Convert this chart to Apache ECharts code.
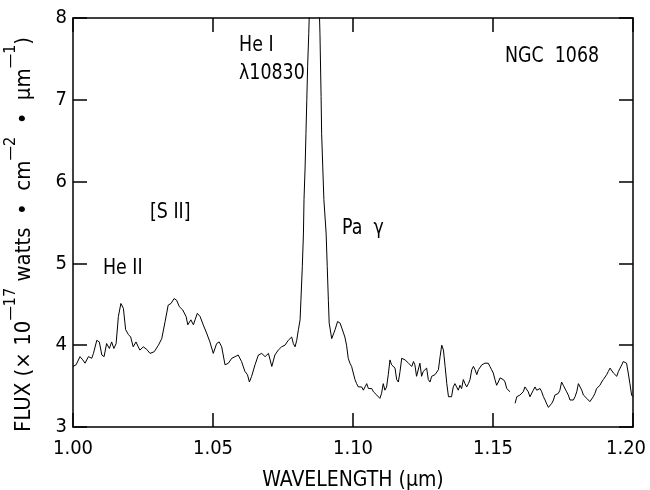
<!DOCTYPE html>
<html><head><meta charset="utf-8">
<script src="https://cdn.jsdelivr.net/npm/echarts@6/dist/echarts.min.js"></script>
<style>html,body{margin:0;padding:0;background:#fff}#c{width:650px;height:490px}</style>
</head><body><div id="c"></div><script>
const wavelength = [
1.0000,1.0011,1.0025,1.0035,1.0043,1.0055,1.0067,1.0073,1.0085,1.0094,1.0103,1.0111,1.0120,1.0130,1.0138,1.0146,1.0154,1.0162,1.0171,1.0180,1.0188,1.0198,1.0206,1.0215,1.0225,1.0233,1.0239,1.0251,1.0263,1.0275,1.0281,1.0290,1.0305,1.0317,1.0329,1.0340,1.0350,1.0361,1.0370,1.0380,1.0392,1.0404,1.0410,1.0421,1.0430,1.0436,1.0444,1.0454,1.0465,1.0477,1.0489,1.0501,1.0513,1.0522,1.0531,1.0543,1.0555,1.0567,1.0579,1.0590,1.0602,1.0614,1.0623,1.0630,1.0638,1.0650,
1.0662,1.0674,1.0686,1.0698,1.0710,1.0721,1.0733,1.0745,1.0757,1.0769,1.0775,1.0781,1.0787,1.0793,1.0799,1.0805,1.0811,1.0814,1.0819,1.0823,1.0825,1.0829,1.0832,1.0835,1.0838,1.0842,1.0846,1.0855,1.0870,1.0878,1.0882,1.0886,1.0888,1.0892,1.0896,1.0904,1.0908,1.0912,1.0915,1.0924,1.0930,1.0936,1.0945,1.0954,1.0960,
1.0966,1.0971,1.0977,1.0983,1.0989,1.0995,1.1001,1.1007,1.1013,1.1019,1.1025,1.1031,1.1037,1.1043,1.1049,1.1055,1.1061,1.1067,1.1073,1.1079,1.1085,1.1091,1.1096,1.1102,1.1108,1.1114,1.1120,1.1126,1.1132,1.1138,1.1144,1.1150,1.1156,1.1162,1.1168,1.1174,1.1180,1.1186,1.1192,1.1198,1.1204,1.1210,1.1216,1.1221,1.1227,1.1233,1.1239,1.1245,1.1251,1.1257,1.1263,1.1269,1.1275,1.1281,1.1287,1.1293,1.1299,1.1305,1.1311,1.1317,1.1323,1.1329,1.1335,1.1341,1.1346,1.1352,1.1358,1.1364,1.1370,1.1376,1.1382,1.1388,1.1394,1.1400,1.1406,1.1412,1.1418,1.1424,1.1430,1.1436,1.1442,1.1448,1.1454,1.1460,1.1466,1.1471,1.1477,1.1483,1.1489,1.1495,1.1501,1.1507,1.1513,1.1519,1.1525,1.1531,1.1537,1.1543,1.1549,1.1555,1.1561,1.1570,
1.1579,1.1585,1.1591,1.1596,1.1602,1.1608,1.1614,1.1620,1.1626,1.1632,1.1638,1.1644,1.1650,1.1656,1.1662,1.1668,1.1674,1.1680,1.1686,1.1692,1.1698,1.1704,1.1710,1.1716,1.1721,1.1727,1.1733,1.1739,1.1745,1.1751,1.1757,1.1763,1.1769,1.1775,1.1781,1.1787,1.1793,1.1799,1.1805,1.1811,1.1817,1.1823,1.1829,1.1835,1.1840,1.1846,1.1852,1.1858,1.1864,1.1870,1.1876,1.1882,1.1888,1.1894,1.1900,1.1906,1.1912,1.1918,1.1924,1.1930,1.1936,1.1942,1.1948,1.1954,1.1960,1.1965,1.1971,1.1977,1.1983,1.1989,1.1995,1.2000
];
const flux = [
3.74,3.76,3.86,3.82,3.78,3.86,3.84,3.90,4.06,4.04,3.88,3.86,4.02,3.96,4.04,3.96,4.02,4.35,4.51,4.45,4.19,4.13,4.10,3.98,4.04,3.98,3.94,3.98,3.95,3.90,3.88,3.92,4.00,4.08,4.29,4.49,4.51,4.57,4.55,4.47,4.43,4.35,4.25,4.31,4.25,4.31,4.39,4.35,4.25,4.15,4.04,3.90,4.02,4.04,3.98,3.76,3.78,3.84,3.86,3.88,3.80,3.68,3.64,3.55,3.62,3.76,
3.88,3.90,3.86,3.90,3.74,3.88,3.94,3.98,4.00,4.06,4.08,4.10,4.02,3.98,4.06,4.19,4.31,4.55,4.96,5.37,5.78,6.18,6.59,7.00,7.41,7.81,8.30,9.50,9.50,8.30,7.81,7.04,6.59,6.18,5.78,5.37,4.96,4.55,4.27,4.08,4.10,4.19,4.29,4.27,4.21,
4.19,4.10,4.00,3.84,3.78,3.74,3.66,3.58,3.53,3.49,3.47,3.49,3.45,3.49,3.53,3.47,3.45,3.47,3.43,3.43,3.39,3.37,3.35,3.41,3.53,3.45,3.49,3.64,3.82,3.76,3.78,3.72,3.58,3.55,3.68,3.84,3.86,3.82,3.82,3.78,3.80,3.74,3.80,3.76,3.62,3.64,3.78,3.62,3.68,3.66,3.72,3.58,3.55,3.62,3.60,3.64,3.64,3.70,3.86,4.00,3.94,3.74,3.53,3.37,3.35,3.37,3.49,3.53,3.49,3.45,3.51,3.47,3.58,3.53,3.49,3.53,3.58,3.70,3.74,3.70,3.64,3.70,3.72,3.76,3.74,3.78,3.80,3.78,3.74,3.70,3.66,3.58,3.51,3.55,3.60,3.60,3.58,3.55,3.47,3.49,3.43,'-',
3.29,3.37,3.35,3.39,3.37,3.43,3.49,3.47,3.43,3.37,3.39,3.45,3.49,3.45,3.47,3.47,3.43,3.37,3.33,3.28,3.24,3.26,3.29,3.33,3.39,3.37,3.41,3.45,3.55,3.51,3.49,3.43,3.39,3.33,3.31,3.33,3.37,3.43,3.53,3.51,3.45,3.39,3.37,3.35,3.33,3.31,3.33,3.37,3.41,3.47,3.49,3.51,3.55,3.58,3.60,3.64,3.68,3.72,3.70,3.66,3.64,3.62,3.68,3.72,3.76,3.80,3.82,3.78,3.66,3.53,3.39,3.37
];
const annotations = [
  ['He I', 1.0593, 7.67],
  ['λ10830', 1.0593, 7.32],
  ['[S II]', 1.0275, 5.63],
  ['He II', 1.0107, 4.94],
  ['Pa  γ', 1.0961, 5.43],
  ['NGC  1068', 1.1543, 7.53]
];
const xMin = 1.00, xMax = 1.20, xStep = 0.05;
const yMin = 3, yMax = 8, yStep = 1;

const F = "'Liberation Sans Narrow','DejaVu Sans Condensed',sans-serif";
const chart = echarts.init(document.getElementById('c'));
const lineData = wavelength.map((w, i) => [w, flux[i]]);
const axisLine = {show: true, lineStyle: {color: '#000', width: 1.5}};
const tick = {show: true, inside: true, length: 14, lineStyle: {color: '#000', width: 1.5}};
chart.setOption({
  backgroundColor: '#fff',
  animation: false,
  grid: {left: 73, right: 17, top: 18, bottom: 63, containLabel: false, outerBoundsMode: 'none'},
  xAxis: [
    {type: 'value', min: xMin, max: xMax, interval: xStep, position: 'bottom',
     axisLine, axisTick: tick, splitLine: {show: false},
     axisLabel: {color: '#000', fontSize: 20, fontFamily: F, margin: 12,
       formatter: v => Math.abs(v - xMax) < 1e-9 ? '{r|' + v.toFixed(2) + '}' : v.toFixed(2),
       rich: {r: {color: '#000', fontSize: 20, fontFamily: F, padding: [0, 14, 0, 0]}}},
     name: 'WAVELENGTH (μm)', nameLocation: 'middle', nameGap: 43,
     nameTextStyle: {color: '#000', fontSize: 21, fontFamily: F}},
    {type: 'value', min: xMin, max: xMax, interval: xStep, position: 'top',
     axisLine, axisTick: tick, splitLine: {show: false}, axisLabel: {show: false}}
  ],
  yAxis: [
    {type: 'value', min: yMin, max: yMax, interval: yStep, position: 'left',
     axisLine, axisTick: tick, splitLine: {show: false},
     axisLabel: {color: '#000', fontSize: 20, fontFamily: F, margin: 6},
     name: '{a|FLUX (× 10}{s|—17}{a| watts  •  cm}{s|—2}{a|  •  μm}{s|—1}{e|)}',
     nameLocation: 'middle', nameRotate: 90, nameGap: 38,
     nameTextStyle: {color: '#000', fontFamily: F, rich: {
       a: {fontSize: 22, fontFamily: F, color: '#000', lineHeight: 32, verticalAlign: 'bottom'},
       s: {fontSize: 16, fontFamily: F, color: '#000', lineHeight: 32, verticalAlign: 'top'},
       e: {fontSize: 22, fontFamily: F, color: '#000', lineHeight: 32, verticalAlign: 'bottom', padding: [0, 24, 0, 0]}
     }}},
    {type: 'value', min: yMin, max: yMax, interval: yStep, position: 'right',
     axisLine, axisTick: tick, splitLine: {show: false}, axisLabel: {show: false}}
  ],
  series: [
    {type: 'line', data: lineData, xAxisIndex: 0, yAxisIndex: 0, showSymbol: false, symbol: 'none',
     connectNulls: false, clip: true,
     lineStyle: {color: '#000', width: 1}}
  ]
});
const graphics = annotations.map(a => {
  const p = chart.convertToPixel({gridIndex: 0}, [a[1], a[2]]);
  return {type: 'text', x: p[0], y: p[1], scaleX: 0.88, silent: true,
    style: {text: a[0], fontSize: 22, fontFamily: F, fill: '#000', align: 'left', verticalAlign: 'middle'}};
});
chart.setOption({graphic: graphics});
</script></body></html>
